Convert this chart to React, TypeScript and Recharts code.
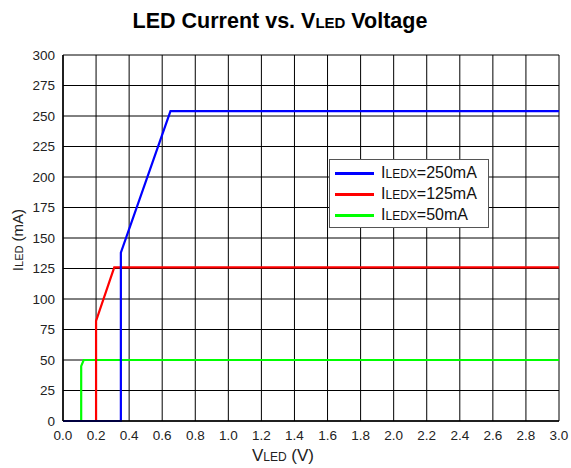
import { LineChart, Line, XAxis, YAxis, CartesianGrid, Legend } from "recharts"

// V_LED (V) / I_LED (mA)
const blueV = [0, 0.35, 0.35, 0.65, 3.0]
const blueI = [0, 0, 138, 254, 254]
const redV = [0, 0.2, 0.2, 0.31, 3.0]
const redI = [0, 0, 82, 126, 126]
const greenV = [0, 0.11, 0.11, 0.125, 3.0]
const greenI = [0, 0, 45, 50, 50]

const seriesLabels = ["250mA", "125mA", "50mA"]
const seriesColors = ["#0000ff", "#ff0000", "#00ff00"]

const xTicks = [0, 0.2, 0.4, 0.6, 0.8, 1.0, 1.2, 1.4, 1.6, 1.8, 2.0, 2.2, 2.4, 2.6, 2.8, 3.0]
const yTicks = [0, 25, 50, 75, 100, 125, 150, 175, 200, 225, 250, 275, 300]
const xMinor = [0.1, 0.3, 0.5, 0.7, 0.9, 1.1, 1.3, 1.5, 1.7, 1.9, 2.1, 2.3, 2.5, 2.7, 2.9]
const yMinor = [12.5, 37.5, 62.5, 87.5, 112.5, 137.5, 162.5, 187.5, 212.5, 237.5, 262.5, 287.5]

const toPoints = (v: number[], i: number[]) => v.map((x, k) => ({ v: x, i: i[k] }))

const blue = toPoints(blueV, blueI)
const red = toPoints(redV, redI)
const green = toPoints(greenV, greenI)

const FONT = "Liberation Sans, Arial, sans-serif"

function LegendBox() {
  return (
    <div
      style={{
        border: "1.5px solid #555",
        background: "#fff",
        width: 160,
        height: 69,
        boxSizing: "border-box",
        padding: "3px 0 0 5px",
        fontFamily: FONT,
        color: "#111",
      }}
    >
      {seriesLabels.map((lab, k) => (
        <div key={lab} style={{ display: "flex", alignItems: "center", height: 21 }}>
          <div style={{ width: 39, height: 3, background: seriesColors[k], marginRight: 7 }} />
          <span style={{ fontSize: 16, lineHeight: "17px" }}>
            I<span style={{ fontSize: 12 }}>LEDX</span>={lab}
          </span>
        </div>
      ))}
    </div>
  )
}

export default function App() {
  return (
    <div style={{ position: "absolute", left: 0, top: 0, width: 571, height: 468, background: "#fff" }}>
      <LineChart
        width={571}
        height={468}
        margin={{ top: 55, right: 12, bottom: 17, left: 23 }}
      >
        <CartesianGrid stroke="#000" strokeWidth={1} />

        <XAxis
          dataKey="v"
          type="number"
          domain={[0, 3]}
          ticks={xTicks}
          tickFormatter={(v: number) => v.toFixed(1)}
          tickLine={false}
          tickSize={0}
          tickMargin={9}
          height={30}
          axisLine={{ stroke: "#000", strokeWidth: 1.5 }}
          tick={{ fill: "#222", fontSize: 13.5, fontFamily: FONT }}
          allowDuplicatedCategory={false}
        />
        <YAxis
          type="number"
          domain={[0, 300]}
          ticks={yTicks}
          tickLine={false}
          tickSize={0}
          tickMargin={8}
          width={40}
          axisLine={{ stroke: "#000", strokeWidth: 1.5 }}
          tick={{ fill: "#222", fontSize: 13.5, fontFamily: FONT }}
        />

        {/* minor ticks and frame */}
        <XAxis
          xAxisId="top"
          orientation="top"
          type="number"
          domain={[0, 3]}
          ticks={xMinor}
          mirror
          height={0}
          tickSize={4}
          tickFormatter={() => ""}
          axisLine={{ stroke: "#444", strokeWidth: 1.5 }}
          tickLine={{ stroke: "#444" }}
        />
        <XAxis
          xAxisId="bottomMinor"
          orientation="bottom"
          type="number"
          domain={[0, 3]}
          ticks={xMinor}
          mirror
          height={0}
          tickSize={4}
          tickFormatter={() => ""}
          axisLine={false}
          tickLine={{ stroke: "#444" }}
        />
        <YAxis
          yAxisId="right"
          orientation="right"
          type="number"
          domain={[0, 300]}
          ticks={yMinor}
          mirror
          width={0}
          tickSize={4}
          tickFormatter={() => ""}
          axisLine={{ stroke: "#444", strokeWidth: 1.5 }}
          tickLine={{ stroke: "#444" }}
        />
        <YAxis
          yAxisId="leftMinor"
          orientation="left"
          type="number"
          domain={[0, 300]}
          ticks={yMinor}
          mirror
          width={0}
          tickSize={4}
          tickFormatter={() => ""}
          axisLine={false}
          tickLine={{ stroke: "#444" }}
        />

        <Legend
          layout="vertical"
          verticalAlign="middle"
          align="center"
          wrapperStyle={{ left: 329, top: 159, width: 160 }}
          content={() => <LegendBox />}
        />

        <Line data={green} dataKey="i" name={seriesLabels[2]} type="linear" stroke={seriesColors[2]} strokeWidth={2.2} dot={false} isAnimationActive={false} />
        <Line data={red} dataKey="i" name={seriesLabels[1]} type="linear" stroke={seriesColors[1]} strokeWidth={2.2} dot={false} isAnimationActive={false} />
        <Line data={blue} dataKey="i" name={seriesLabels[0]} type="linear" stroke={seriesColors[0]} strokeWidth={2.2} dot={false} isAnimationActive={false} />

        <text x={280} y={28} textAnchor="middle" fontFamily={FONT} fontWeight="bold" fontSize={21.5} fill="#000">
          LED Current vs. V<tspan fontSize={15}>LED</tspan> Voltage
        </text>
        <text x={283} y={461} textAnchor="middle" fontFamily={FONT} fontSize={17} fill="#222">
          V<tspan fontSize={12}>LED</tspan> (V)
        </text>
        <text
          x={23}
          y={240}
          textAnchor="middle"
          fontFamily={FONT}
          fontSize={15}
          fill="#222"
          transform="rotate(-90 23 240)"
        >
          I<tspan fontSize={11}>LED</tspan> (mA)
        </text>
      </LineChart>
    </div>
  )
}
